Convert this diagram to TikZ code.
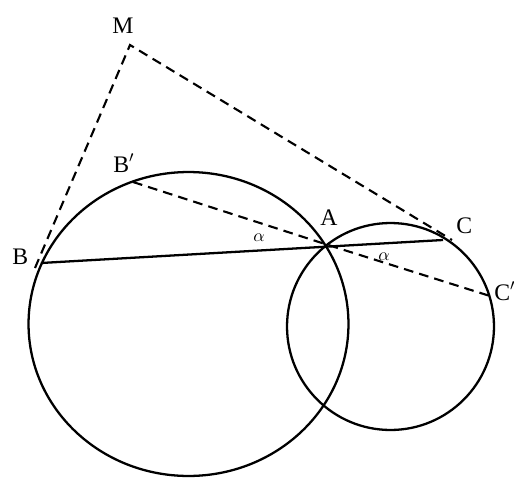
\documentclass[tikz,border=0pt]{standalone}
\usepackage{amsmath}
\usepackage{fontspec}
\setmainfont{Liberation Serif}
\usepackage{tikz}

\begin{document}
\begin{tikzpicture}[
  x=0.02cm,y=-0.02cm,
  circ/.style={draw=black,line width=1.3pt},
  chord/.style={draw=black,line width=1.3pt},
  aux/.style={draw=black,line width=1.2pt,dash pattern=on 5.5pt off 3.5pt},
  lbl/.style={font=\fontsize{13.5}{15}\selectfont,inner sep=0pt,anchor=base west},
  ang/.style={font=\normalsize,inner sep=0pt}
]
  \useasboundingbox (0,0) rectangle (514,477);
  \draw[circ] (188.5,324) ellipse [x radius=3.2cm,y radius=3.04cm];
  \draw[circ] (390.5,326.5) circle [radius=2.07cm];
  \coordinate (A) at (325,244);
  \coordinate (B) at (41,263);
  \coordinate (C) at (443,240);
  \coordinate (Bp) at (133,182);
  \coordinate (Cp) at (490,296);
  \coordinate (M) at (130,45);
  \coordinate (Mb) at (35,268);
  \coordinate (Mc) at (452,240);
  \draw[chord] (B) -- (C);
  \draw[aux] (Bp) -- (A) -- (Cp);
  \draw[aux] (Mb) -- (M) -- (Mc);
  \node[lbl] (labM) at (112,33) {M};
  \node[lbl] (labB) at (12,264) {B};
  \node[lbl] (labBp) at (113,172) {B$'$};
  \node[lbl] (labA) at (320,225) {A};
  \node[lbl] (labC) at (456,233) {C};
  \node[lbl] (labCp) at (494,300) {C$'$};
  \node[ang] (alpha1) at (259,237.5) {$\alpha$};
  \node[ang] (alpha2) at (384,257) {$\alpha$};
\end{tikzpicture}
\end{document}
